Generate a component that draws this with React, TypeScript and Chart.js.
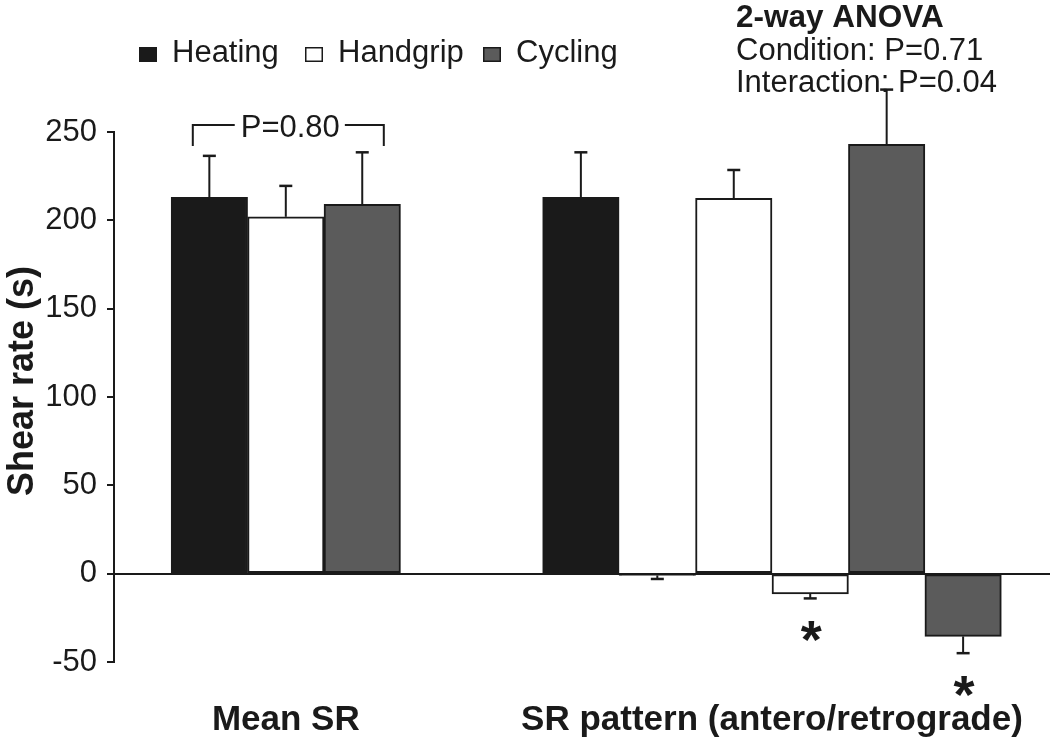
import React, { useEffect, useRef } from 'react';
import { Chart, registerables } from 'chart.js';

Chart.register(...registerables);

// ---------------- data ----------------
const groups = ['Mean SR', 'SR pattern (antero/retrograde)'];
const conditions = ['Heating', 'Handgrip', 'Cycling'];
const fills = ['#1a1a1a', '#ffffff', '#5b5b5b'];
const meanSR = [213, 202, 209];
const meanSRErr = [23.5, 17.5, 29.5];
const anteroSR = [213, 212.5, 243];
const anteroSRErr = [25.5, 16, 31];
const retroSR = [-1, -11.5, -35.5];
const retroSRErr = [2, 2.5, 9.5];
const retroSignificant = [false, true, true];
const yMin = -50;
const yMax = 250;
const yStep = 50;
const yTitle = 'Shear rate (s)';
const meanPText = 'P=0.80';
const anovaTitle = '2-way ANOVA';
const anovaLines = ['Condition: P=0.71', 'Interaction: P=0.04'];

// ---------------- layout ----------------
const INK = '#1a1a1a';
const FONT = '"Liberation Sans", Arial, Helvetica, sans-serif';
const BAR_W = 0.15724; // bar width in group-spacing units
const X_MIN = -0.35335;
const X_MAX = 1.5718;
const meanX = (c: number) => (c - 1) * BAR_W;
const anteroX = (c: number) => 1 + (2 * c - 2.5) * BAR_W;
const retroX = (c: number) => 1 + (2 * c - 1.5) * BAR_W;

const errorBarPlugin = {
  id: 'errorBars',
  afterDatasetsDraw(chart: any) {
    const ctx = chart.ctx;
    const ys = chart.scales.y;
    ctx.save();
    ctx.strokeStyle = INK;
    chart.data.datasets.forEach((ds: any, di: number) => {
      const meta = chart.getDatasetMeta(di);
      meta.data.forEach((el: any, i: number) => {
        const v = ds.data[i].y;
        const e = ds.errors[i];
        const end = ys.getPixelForValue(v >= 0 ? v + e : v - e);
        ctx.lineWidth = 2;
        ctx.beginPath();
        ctx.moveTo(el.x, el.y);
        ctx.lineTo(el.x, end);
        ctx.stroke();
        ctx.lineWidth = 2.5;
        ctx.beginPath();
        ctx.moveTo(el.x - 6.5, end);
        ctx.lineTo(el.x + 6.5, end);
        ctx.stroke();
      });
    });
    ctx.restore();
  },
};

const annotationPlugin = {
  id: 'annotations',
  afterDraw(chart: any) {
    const ctx = chart.ctx;
    const xs = chart.scales.x;
    const ys = chart.scales.y;
    ctx.save();
    ctx.fillStyle = INK;
    ctx.strokeStyle = INK;

    // legend
    const legendX = [139, 305, 483];
    ctx.font = `31px ${FONT}`;
    ctx.textBaseline = 'alphabetic';
    ctx.textAlign = 'left';
    conditions.forEach((label, c) => {
      ctx.fillStyle = fills[c];
      ctx.fillRect(legendX[c], 47, 18, 15);
      ctx.lineWidth = 1.5;
      ctx.strokeStyle = INK;
      ctx.strokeRect(legendX[c] + 0.75, 47.75, 16.5, 13.5);
      ctx.fillStyle = INK;
      ctx.fillText(label, legendX[c] + 33, 61.5);
    });

    // ANOVA text
    ctx.font = `bold 31.5px ${FONT}`;
    ctx.fillText(anovaTitle, 736, 27);
    ctx.font = `31px ${FONT}`;
    anovaLines.forEach((t, i) => ctx.fillText(t, 736, 60 + i * 32));

    // Mean SR bracket
    const gc = xs.getPixelForValue(0);
    const bl = gc - 93;
    const br = gc + 98;
    const by = 125;
    const bb = 146;
    ctx.font = `31px ${FONT}`;
    const tw = ctx.measureText(meanPText).width;
    const tx = (bl + br) / 2 - tw / 2 + 2;
    ctx.lineWidth = 2;
    ctx.beginPath();
    ctx.moveTo(bl, bb);
    ctx.lineTo(bl, by);
    ctx.lineTo(tx - 6, by);
    ctx.moveTo(tx + tw + 5, by);
    ctx.lineTo(br, by);
    ctx.lineTo(br, bb);
    ctx.stroke();
    ctx.fillText(meanPText, tx, 137);

    // asterisks
    conditions.forEach((_, c) => {
      if (!retroSignificant[c]) return;
      const el = chart.getDatasetMeta(c).data[2];
      const errEnd = ys.getPixelForValue(retroSR[c] - retroSRErr[c]);
      const cy = errEnd + 33;
      ctx.font = `bold 54px ${FONT}`;
      const m = ctx.measureText('*');
      ctx.textAlign = 'center';
      const base = cy + (m.actualBoundingBoxAscent - m.actualBoundingBoxDescent) / 2;
      ctx.fillText('*', el.x + 1, base);
    });

    // y title
    ctx.font = `bold 36px ${FONT}`;
    ctx.textAlign = 'center';
    ctx.textBaseline = 'alphabetic';
    ctx.translate(33, 381);
    ctx.rotate(-Math.PI / 2);
    ctx.fillText(yTitle, 0, 0);
    ctx.restore();
  },
};

export default function App() {
  const ref = useRef<HTMLCanvasElement | null>(null);

  useEffect(() => {
    if (!ref.current) return;
    const datasets = conditions.map((label, c) => ({
      label,
      data: [
        { x: meanX(c), y: meanSR[c] },
        { x: anteroX(c), y: anteroSR[c] },
        { x: retroX(c), y: retroSR[c] },
      ],
      errors: [meanSRErr[c], anteroSRErr[c], retroSRErr[c]],
      backgroundColor: fills[c],
      borderColor: INK,
      borderWidth: 2,
      borderSkipped: false,
      grouped: false,
      barPercentage: 1,
      categoryPercentage: 1,
    }));

    const chart = new Chart(ref.current, {
      type: 'bar',
      data: { datasets } as any,
      options: {
        responsive: false,
        animation: false,
        devicePixelRatio: 1,
        layout: { padding: { top: 132, right: 0, left: 0, bottom: 0 } },
        plugins: { legend: { display: false }, tooltip: { enabled: false } },
        scales: {
          x: {
            type: 'linear',
            offset: false,
            min: X_MIN,
            max: X_MAX,
            grid: { display: false },
            border: { display: false },
            afterBuildTicks: (axis: any) => {
              axis.ticks = groups.map((_, i) => ({ value: i }));
            },
            afterFit: (axis: any) => {
              axis.height = 82;
              axis.paddingLeft = 0;
              axis.paddingRight = 0;
            },
            ticks: {
              autoSkip: false,
              maxRotation: 0,
              padding: 29,
              color: INK,
              font: { family: FONT, size: 35, weight: 'bold' },
              callback: (v: any) => groups[Math.round(Number(v))] ?? '',
            },
          },
          y: {
            min: yMin,
            max: yMax,
            afterFit: (axis: any) => {
              axis.width = 114;
            },
            border: { display: true, color: INK, width: 2 },
            grid: {
              color: (ctx: any) => (ctx.tick && ctx.tick.value === 0 ? INK : 'rgba(0,0,0,0)'),
              lineWidth: 2,
              tickColor: INK,
              tickLength: 7,
              tickWidth: 2,
            } as any,
            ticks: {
              stepSize: yStep,
              padding: 10,
              color: INK,
              font: { family: FONT, size: 31 },
            },
          },
        },
      } as any,
      plugins: [errorBarPlugin, annotationPlugin],
    });
    return () => chart.destroy();
  }, []);

  return (
    <div style={{ position: 'absolute', left: 0, top: 0, width: 1050, height: 744, background: '#fff' }}>
      <canvas ref={ref} width={1050} height={744} style={{ display: 'block' }} />
    </div>
  );
}
